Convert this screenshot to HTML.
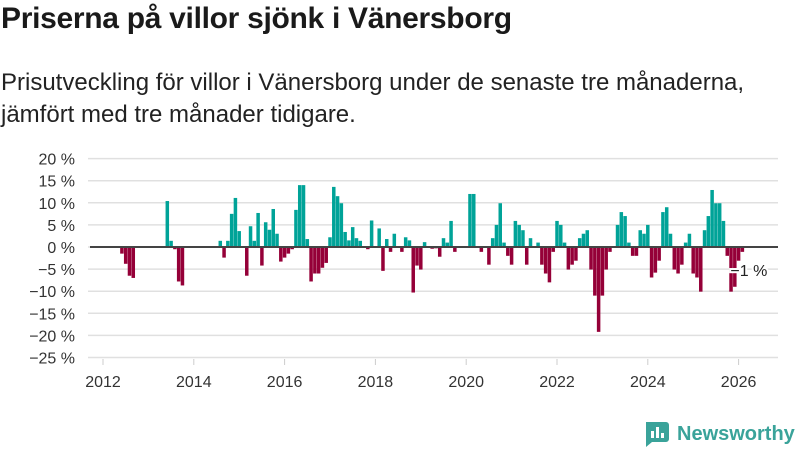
<!DOCTYPE html>
<html><head><meta charset="utf-8">
<style>
body{margin:0;background:#fff;width:800px;height:450px;overflow:hidden;font-family:"Liberation Sans",sans-serif;color:#1a1a1a}
#title{position:absolute;left:1px;top:2px;font-size:30px;font-weight:bold;margin:0;letter-spacing:-0.3px}
#sub{position:absolute;left:1px;top:67px;font-size:24px;line-height:32px;margin:0;color:#222}
svg{position:absolute;left:0;top:0}
</style></head><body>
<h1 id="title">Priserna på villor sjönk i Vänersborg</h1>
<p id="sub">Prisutveckling för villor i Vänersborg under de senaste tre månaderna,<br>jämfört med tre månader tidigare.</p>
<svg id="chart" width="800" height="450"></svg>
<script>
// monthly change (%) starting Jan 2012; 0 = no bar
const startYear = 2012;
const values = [
0,0,0,0,0,-1.5,-3.8,-6.5,-7,0,0,0,
0,0,0,0,0,10.4,1.4,-0.5,-7.8,-8.7,0,0,
0,0,0,0,0,0,0,1.4,-2.4,1.4,7.5,11.1,
3.6,0,-6.5,4.7,1.4,7.7,-4.2,5.6,3.9,8.6,3.0,-3.3,
-2.4,-1.5,-0.5,8.4,14.0,14.0,1.8,-7.8,-6.0,-6.0,-4.7,-3.6,
2.2,13.6,11.5,9.9,3.4,1.5,4.5,2.0,1.4,0,-0.5,6.0,
0,4.2,-5.4,1.8,-1.1,3.0,0,-1.1,2.2,1.5,-10.3,-4.2,
-5.1,1.1,0,-0.4,-0.3,-2.2,2.0,1.0,5.9,-1.1,0,0,
0,12.0,12.0,0,-1.1,0,-4.0,2.0,5.0,9.9,1.0,-2.0,
-4.0,5.9,5.0,3.8,-4.0,2.0,0,1.0,-4.0,-6.0,-8.0,-1.1,
5.9,5.0,1.0,-5.1,-4.0,-3.1,2.0,3.0,3.8,-5.1,-11.0,-19.2,
-11.0,-5.1,-1.1,0,5.0,7.9,7.0,1.0,-2.0,-2.0,3.8,3.0,
5.0,-6.9,-5.8,-3.1,7.9,9.0,3.0,-5.1,-6.0,-4.0,1.0,3.0,
-6.0,-6.9,-10.1,3.8,7.0,12.9,9.9,9.9,5.9,-2.0,-10.1,-9.0,
-3.1,-1.1
];
const yTicks = [20,15,10,5,0,-5,-10,-15,-20,-25];
const xTicks = [2012,2014,2016,2018,2020,2022,2024,2026];
const lastLabel = "\u22121 %";

const svg = document.getElementById('chart');
const NS = 'http://www.w3.org/2000/svg';
const y = v => 247 - v * 4.42;
const x = yr => 103 + (yr - 2012) * 45.4;
const xm = m => x(startYear + m / 12);
function mk(tag, attrs, parent){const e=document.createElementNS(NS,tag);for(const k in attrs)e.setAttribute(k,attrs[k]);(parent||svg).appendChild(e);return e;}

yTicks.forEach(t=>{
  const g = mk('line',{x1:88,x2:778,y1:y(t),y2:y(t),stroke:'#e0e0e0','stroke-width':1.5});
  
  
  const tx = mk('text',{x:75,y:y(t)+6,'text-anchor':'end','font-size':16,fill:'#333'});
  tx.textContent = (t<0?'\u2212'+(-t):t)+' %';
  
  
});
xTicks.forEach(t=>{
  const tk = mk('line',{x1:x(t),x2:x(t),y1:359,y2:365,stroke:'#ccc'});
  
  
  const tx = mk('text',{x:x(t),y:387,'text-anchor':'middle','font-size':16,fill:'#333'});
  tx.textContent = t;
  
  
});
values.forEach((v,m)=>{
  if(!v) return;
  const r = mk('rect',{x:xm(m)-1.75,width:3.5,y:Math.min(y(v),y(0)),height:Math.abs(y(v)-y(0)),fill:v>0?'#00a398':'#950038'});
  
  
});
const zl = mk('line',{x1:90,x2:778,y1:247,y2:247,stroke:'#444','stroke-width':2});


const lm = values.length-1;
const lbl = mk('text',{x:xm(lm)-12,y:276,'font-size':16,fill:'#222',stroke:'#fff','stroke-width':4,'paint-order':'stroke'});
lbl.textContent = lastLabel;



// logo
const lg = mk('g',{});


mk('path',{d:'M646 422 h20 a3 3 0 0 1 3 3 v14 a3 3 0 0 1 -3 3 h-14 l-6 5 z',fill:'#3aa39a'},lg);
mk('rect',{x:651,y:431,width:3,height:7,fill:'#fff'},lg);
mk('rect',{x:656,y:427,width:3,height:11,fill:'#fff'},lg);
mk('rect',{x:661,y:433,width:3,height:5,fill:'#fff'},lg);
const lt = mk('text',{x:677,y:440,'font-size':20,fill:'#3aa39a','font-weight':'bold'},lg);
lt.textContent='Newsworthy';
</script>
</body></html>
